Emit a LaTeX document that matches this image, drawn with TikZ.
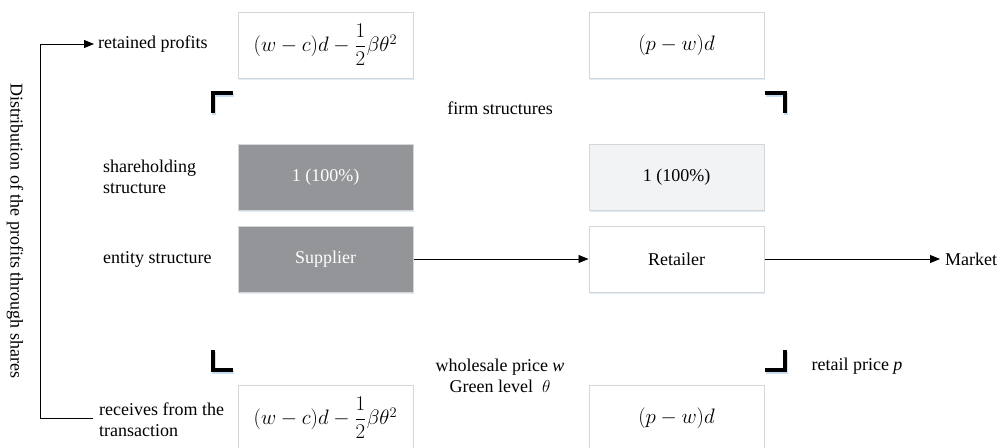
\documentclass[tikz,border=0pt]{standalone}
\usepackage{amsmath}
\usepackage{graphicx}
\usepackage{fontspec}
\setmainfont{Liberation Serif}
\usetikzlibrary{arrows.meta}
\definecolor{darkbox}{HTML}{939598}
\definecolor{lightbox}{HTML}{F2F3F5}
\definecolor{boxline}{HTML}{D4D6D8}
\definecolor{glow}{HTML}{C9DDF0}
\newcommand{\cellmath}[1]{\scalebox{1.21}{$#1$}}
\begin{document}
\begin{tikzpicture}[x=1pt,y=-1pt,
  every node/.style={font=\fontsize{18}{21}\selectfont},
  cell/.style={draw=boxline,line width=1pt,minimum width=175pt,minimum height=66pt,inner sep=0pt},
  dark/.style={cell,fill=darkbox,text=white},
  light/.style={cell,fill=lightbox},
  plain/.style={cell,fill=white},
  lbl/.style={align=left,anchor=west,inner sep=0pt},
  flow/.style={-{Triangle[length=10pt,width=8pt]},line width=0.9pt},
  brk/.style={line width=3.5pt,line cap=rect},
  brkglow/.style={line width=4.5pt,draw=glow,line cap=rect}
]
\useasboundingbox (0,0) rectangle (1003,447);
% shadows of boxes
\foreach \xa/\ya in {238/12,589/12,238/144,589/144,238/226,589/226,238/385,589/385}{
  \fill[glow!60] (\xa+1,\ya+2) rectangle (\xa+176,\ya+68);
}
\node[plain] (tl) at (325.5,45) {\cellmath{(w-c)d-\dfrac{1}{2}\beta\theta^2}};
\node[plain] (tr) at (676.5,45) {\cellmath{(p-w)d}};
\node[dark] (sl) at (325.5,177) {1 (100\%)};
\node[light] (sr) at (676.5,177) {1 (100\%)};
\node[dark] (sup) at (325.5,259) {Supplier};
\node[plain] (ret) at (676.5,259) {Retailer};
\node[plain] (bl) at (325.5,418) {\cellmath{(w-c)d-\dfrac{1}{2}\beta\theta^2}};
\node[plain] (br) at (676.5,418) {\cellmath{(p-w)d}};

% brackets
\draw[brkglow] (214,113) -- (214,95) -- (232,95);
\draw[brk] (213,111) -- (213,93) -- (231,93);
\draw[brkglow] (786,113) -- (786,95) -- (768,95);
\draw[brk] (785,111) -- (785,93) -- (767,93);
\draw[brkglow] (214,354) -- (214,372) -- (232,372);
\draw[brk] (213,352) -- (213,370) -- (231,370);
\draw[brkglow] (786,354) -- (786,372) -- (768,372);
\draw[brk] (785,352) -- (785,370) -- (767,370);

% labels
\node[lbl] (rp) at (98,44) {retained profits};
\node (fs) at (500,108) {firm structures};
\node[lbl,align=left] (sh) at (103,177) {shareholding\\structure};
\node[lbl] (es) at (103,259) {entity structure};
\node[align=center] (wp) at (500,376) {wholesale price \textit{w}\\Green level\ \ $\theta$};
\node (rpp) at (857,366) {retail price \textit{p}};
\node[lbl] (mk) at (945,259) {Market};
\node[lbl,align=left] (rc) at (99,420) {receives from the\\transaction};
\node[rotate=-90] (dist) at (15,231) {Distribution of the profits through shares};

% flows
\draw[flow] (sup.east) -- (ret.west);
\draw[flow,shorten >=5pt] (ret.east) -- (mk.west);
\coordinate (c1) at (40,44);
\coordinate (c2) at (40,418);
\coordinate (c3) at (93,418);
\draw[line width=0.9pt] (c3) -- (c2) -- (c1);
\draw[flow,shorten >=4pt] (c1) -- (rp.west);
\end{tikzpicture}
\end{document}
